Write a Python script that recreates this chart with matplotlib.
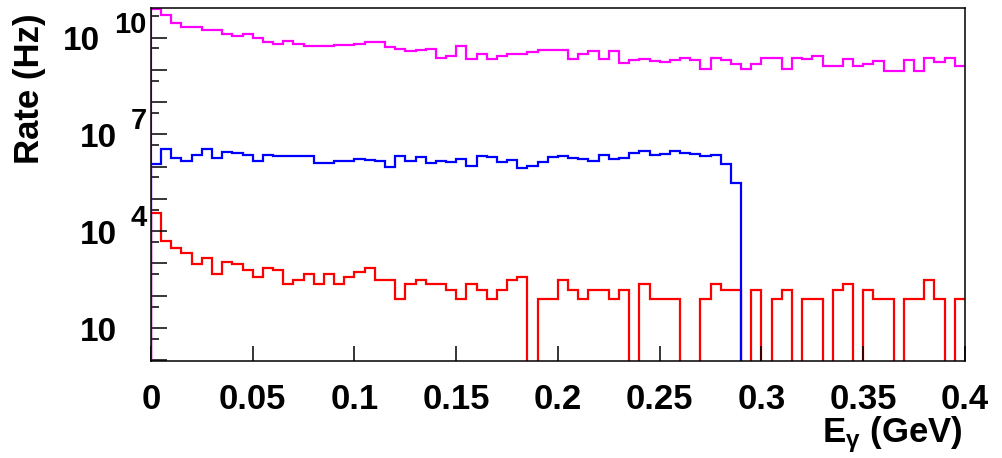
import numpy as np
import matplotlib
matplotlib.use('Agg')
import matplotlib.pyplot as plt

# 80 bins of 5 MeV between 0 and 0.4 GeV
bin_edges = np.linspace(0.0, 0.4, 81)

# rates in Hz, one value per bin
rate_magenta = [7.8e10, 5.1e10, 2.9e10, 2.15e10, 2.15e10, 1.74e10, 1.74e10, 1.30e10, 1.13e10, 1.30e10,
                9.8e9, 7.4e9, 6.4e9, 7.9e9, 6.4e9, 5.5e9, 5.5e9, 5.5e9, 5.9e9, 5.9e9,
                6.4e9, 7.4e9, 7.4e9, 5.2e9, 4.5e9, 3.9e9, 4.2e9, 4.5e9, 2.35e9, 2.7e9,
                5.5e9, 2.19e9, 3.1e9, 2.19e9, 2.7e9, 3.1e9, 3.1e9, 3.6e9, 4.2e9, 4.2e9,
                4.2e9, 2.19e9, 3.1e9, 3.9e9, 2.19e9, 3.9e9, 1.64e9, 2.04e9, 2.19e9, 1.89e9,
                1.76e9, 2.04e9, 2.35e9, 2.04e9, 1.07e9, 2.35e9, 2.04e9, 1.53e9, 1.07e9, 1.53e9,
                2.35e9, 2.35e9, 1.07e9, 2.35e9, 2.19e9, 2.7e9, 1.32e9, 1.32e9, 2.19e9, 1.32e9,
                1.53e9, 1.89e9, 9.3e8, 9.3e8, 2.04e9, 9.3e8, 2.35e9, 1.76e9, 2.35e9, 1.32e9]

rate_blue = [1.21e6, 3.52e6, 1.85e6, 1.49e6, 2.29e6, 3.52e6, 1.85e6, 2.84e6, 2.64e6, 2.29e6,
             1.49e6, 2.29e6, 2.13e6, 2.13e6, 2.13e6, 2.13e6, 1.29e6, 1.29e6, 1.49e6, 1.49e6,
             1.72e6, 1.60e6, 1.49e6, 9.7e5, 2.13e6, 1.49e6, 1.99e6, 1.29e6, 1.49e6, 1.39e6,
             1.72e6, 1.04e6, 2.13e6, 1.99e6, 1.39e6, 1.60e6, 9.1e5, 1.04e6, 1.39e6, 1.99e6,
             2.13e6, 1.85e6, 1.72e6, 1.49e6, 2.29e6, 1.72e6, 1.85e6, 2.64e6, 3.05e6, 2.29e6,
             2.46e6, 3.05e6, 2.64e6, 2.46e6, 2.13e6, 2.29e6, 1.21e6, 3.1e5, 0, 0,
             0, 0, 0, 0, 0, 0, 0, 0, 0, 0,
             0, 0, 0, 0, 0, 0, 0, 0, 0, 0]

rate_red = [3.6e4, 4.9e3, 3.0e3, 2.1e3, 936, 1482, 468, 1092, 936, 624,
            390, 702, 624, 234, 312, 468, 234, 468, 234, 390,
            546, 702, 312, 312, 78, 234, 312, 234, 234, 156,
            78, 234, 156, 78, 156, 312, 390, 0, 78, 78,
            312, 156, 78, 156, 156, 78, 156, 0, 234, 78,
            78, 78, 0, 0, 78, 234, 156, 156, 0, 156,
            0, 78, 156, 0, 78, 78, 0, 156, 234, 0,
            156, 78, 78, 0, 78, 78, 312, 78, 0, 78]

x_ticks = [0, 0.05, 0.1, 0.15, 0.2, 0.25, 0.3, 0.35, 0.4]
x_tick_labels = ['0', '0.05', '0.1', '0.15', '0.2', '0.25', '0.3', '0.35', '0.4']
y_label_exps = [1, 4, 7, 10]

plt.rcParams['font.family'] = ['Liberation Sans', 'DejaVu Sans']
plt.rcParams['font.weight'] = 'bold'
plt.rcParams['mathtext.fontset'] = 'custom'
plt.rcParams['mathtext.rm'] = 'Liberation Sans:bold'
plt.rcParams['mathtext.it'] = 'Liberation Sans:bold'
plt.rcParams['mathtext.bf'] = 'Liberation Sans:bold'

y_min, y_max = 0.95, 8.3e10

fig = plt.figure(figsize=(10.03, 4.58), dpi=100)
ax = fig.add_axes([0.1505, 0.2118, 0.8116, 0.7707])

# histograms (zero bins drop to the bottom of the log axis),
# ROOT draws the rising edge at the left but not the right end
for rates, col in [(rate_red, '#ff0000'), (rate_blue, '#0000ff'), (rate_magenta, '#ff00ff')]:
    ax.stairs(rates, bin_edges, color=col, lw=1.6, baseline=None)
    ax.vlines(bin_edges[0], y_min, rates[0], color=col, lw=1.6)

ax.set_yscale('log')
ax.set_xlim(0, 0.4)
ax.set_ylim(y_min, y_max)

# ticks, ROOT style
ax.set_xticks(x_ticks)
ax.set_xticklabels(x_tick_labels)
ax.set_yticks([10.0 ** k for k in range(0, 11)])
ax.set_yticks([10.0 ** (k - 1 / 3) for k in range(1, 12)], minor=True)
ax.tick_params(axis='x', direction='in', length=10.8, width=1.1, pad=16, labelsize=25)
ax.tick_params(axis='y', which='major', direction='in', length=11.5, width=1.1, labelleft=False)
ax.tick_params(axis='y', which='minor', direction='in', length=5.8, width=1.1, labelleft=False)
ax.tick_params(top=False, right=False, which='both')
for s in ax.spines.values():
    s.set_linewidth(1.1)
    s.set_color('black')

# 10^n labels
for e in y_label_exps:
    exp_str = '' if e == 1 else str(e)
    n = max(len(exp_str), 1)
    ax.annotate('10', xy=(0, 10.0 ** e), xycoords=('axes fraction', 'data'),
                xytext=(-(4 + 16.5 * n + 13.5), -12.5), textcoords='offset pixels',
                ha='right', va='baseline', fontsize=24, fontweight='bold')
    if exp_str:
        ax.annotate(exp_str, xy=(0, 10.0 ** e), xycoords=('axes fraction', 'data'),
                    xytext=(-4, 5), textcoords='offset pixels',
                    ha='right', va='baseline', fontsize=21, fontweight='bold')

fig.text(30 / 1003, 1 - 13 / 458, 'Rate (Hz)', rotation=90, ha='center', va='top',
         fontsize=25, fontweight='bold')
fig.text(963 / 1003, 1 - 442 / 458, r'E$_{\gamma}$ (GeV)', ha='right', va='baseline',
         fontsize=25, fontweight='bold')

plt.savefig('out.png', dpi=100)
